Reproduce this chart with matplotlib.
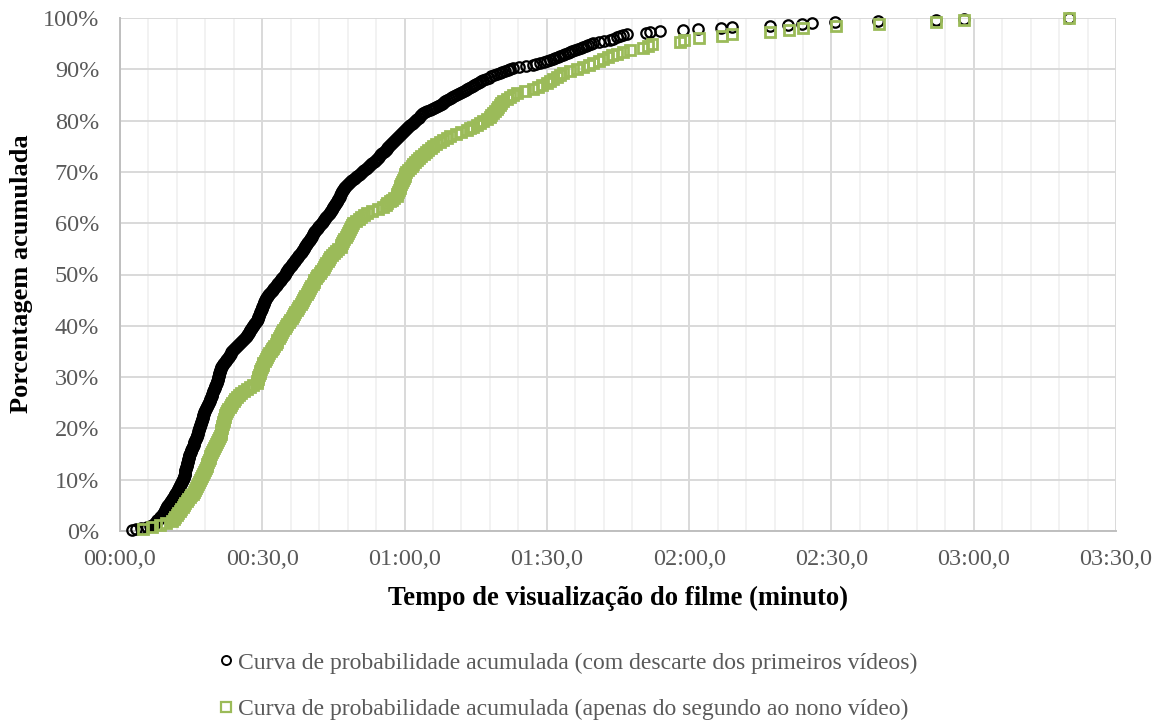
import numpy as np
import matplotlib
matplotlib.use("Agg")
import matplotlib.pyplot as plt
from matplotlib.ticker import FixedLocator, FuncFormatter
from matplotlib.lines import Line2D

# Sorted viewing times (seconds) for each group; each point is one viewer
tempos_descarte = [
    2.6, 3.3,
    4.5, 5.6, 6.4, 7.0,
    7.1, 7.3, 7.6, 7.8, 7.9, 8.2, 8.4, 8.5, 8.8,
    8.9, 9.0, 9.2, 9.3, 9.5, 9.6, 9.8, 9.9, 10.0, 10.2, 10.4, 10.5,
    10.6, 10.8, 10.9, 11.0, 11.2, 11.3, 11.4, 11.6, 11.7, 11.8, 12.0, 12.1, 12.2,
    12.3, 12.4, 12.5, 12.6, 12.7, 12.8, 12.9, 13.0, 13.1, 13.2, 13.3, 13.4, 13.5, 13.5, 13.6, 13.7,
    13.7, 13.8, 13.8, 13.9, 14.0, 14.0, 14.1, 14.1, 14.2, 14.2, 14.3, 14.3, 14.4, 14.4, 14.5, 14.5,
    14.6, 14.6, 14.7, 14.8,
    14.9, 15.0, 15.0, 15.1, 15.2, 15.3, 15.4, 15.5, 15.5, 15.6, 15.7, 15.8, 15.9, 16.0, 16.1, 16.2,
    16.3, 16.3, 16.4, 16.5, 16.5, 16.6, 16.7, 16.7, 16.8, 16.9, 16.9, 17.0, 17.1, 17.1, 17.2,
    17.3, 17.3, 17.4, 17.5, 17.5, 17.6, 17.7, 17.8, 17.8, 17.9, 18.0, 18.1, 18.2, 18.3,
    18.4, 18.5, 18.6, 18.7, 18.8, 18.9, 19.0, 19.0, 19.1, 19.2, 19.3, 19.4, 19.5, 19.6, 19.7,
    19.8, 19.9, 20.0, 20.0, 20.1, 20.2, 20.3, 20.4,
    20.5, 20.5, 20.6, 20.6, 20.7, 20.7, 20.8, 20.8, 20.9, 20.9, 21.0, 21.1, 21.1, 21.2, 21.3, 21.4,
    21.5, 21.7, 21.8, 22.0, 22.1, 22.3, 22.4, 22.6, 22.7, 22.9, 23.0, 23.2, 23.4, 23.5, 23.7, 23.9,
    24.1, 24.3, 24.5, 24.7, 24.9, 25.1, 25.3, 25.5, 25.7, 25.9, 26.1, 26.3, 26.5, 26.7,
    26.8, 27.0, 27.1, 27.3, 27.4, 27.5, 27.7, 27.8, 27.9, 28.0, 28.2, 28.3, 28.5, 28.6, 28.8,
    28.9, 29.0, 29.1, 29.2, 29.3, 29.4, 29.5, 29.6, 29.7, 29.8, 29.9, 30.0, 30.0, 30.1, 30.2,
    30.3, 30.4, 30.4, 30.5, 30.6, 30.7, 30.8, 30.9,
    31.1, 31.3, 31.4, 31.6, 31.8, 32.0, 32.2, 32.3, 32.5, 32.7, 32.9, 33.0, 33.2, 33.4, 33.5,
    33.7, 33.9, 34.0, 34.2, 34.4,
    34.6, 34.7, 34.9, 35.0, 35.2, 35.4, 35.5, 35.7, 35.9, 36.0, 36.2, 36.3, 36.5, 36.7, 36.8,
    37.0, 37.2, 37.3, 37.5, 37.6, 37.8, 38.0,
    38.1, 38.3, 38.4, 38.6, 38.7, 38.8, 39.0, 39.1, 39.3, 39.4, 39.5, 39.7, 39.8, 40.0, 40.1,
    40.2, 40.4, 40.5, 40.7, 40.8,
    41.0, 41.2, 41.3, 41.5, 41.7, 41.8, 42.0, 42.2, 42.3, 42.5, 42.7, 42.8, 43.0, 43.2, 43.3,
    43.5, 43.7, 43.8, 44.0, 44.2, 44.3, 44.5, 44.6, 44.7, 44.9, 45.0,
    45.1, 45.3, 45.4, 45.5, 45.7, 45.8, 45.9, 46.0, 46.2, 46.3, 46.4, 46.6, 46.7, 46.8, 46.9,
    47.1, 47.2, 47.3, 47.5, 47.6, 47.8,
    48.0, 48.3, 48.5, 48.8, 49.0, 49.3, 49.5, 49.8, 50.0, 50.3, 50.5, 50.8, 51.0, 51.3, 51.5,
    51.8, 52.0, 52.3, 52.5, 52.8, 53.0,
    53.2, 53.5, 53.7, 54.0, 54.2, 54.4, 54.7, 54.9, 55.1, 55.3, 55.6, 55.8,
    56.0, 56.2, 56.4, 56.6, 56.8, 57.0, 57.2, 57.4, 57.6, 57.8, 58.0, 58.2, 58.4, 58.6, 58.8,
    59.0, 59.2, 59.4, 59.6, 59.8, 60.0,
    60.2, 60.5, 60.7, 61.0, 61.2, 61.5, 61.7, 62.0, 62.2, 62.5, 62.7, 63.0, 63.2, 63.4, 63.6, 63.8,
    64.3, 64.8, 65.3, 65.8, 66.3, 66.7, 67.1, 67.5,
    67.8, 68.1, 68.3, 68.6, 68.9,
    69.3, 69.7, 70.1, 70.5, 70.9, 71.3, 71.7,
    72.1, 72.5, 72.9, 73.2, 73.6, 74.0, 74.4, 74.7, 75.1, 75.5, 75.8, 76.2, 76.6,
    77.2, 77.8, 78.3, 78.9, 79.5, 80.1, 80.6, 81.2, 81.8, 82.3, 82.9,
    84.2, 85.6, 87.1,
    87.8, 88.5, 89.3, 90.0, 90.7,
    91.2, 91.8, 92.3, 92.8, 93.4, 93.9, 94.4, 94.9,
    95.4, 96.0, 96.5, 97.1, 97.6, 98.2, 98.7, 99.3, 99.8,
    101.0, 102.1, 103.3,
    104.0, 104.7, 105.4, 106.1, 106.8,
    111.0, 111.7, 113.9, 118.7, 121.9, 126.8, 129.0, 137.0, 140.9, 143.8, 145.8, 150.8,
    159.8, 172.0, 178.0, 200.0,
]

tempos_segundo_nono = [
    4.9, 6.8, 8.4, 9.8, 10.9,
    11.3, 11.7, 12.0, 12.3, 12.6,
    12.9, 13.2, 13.5, 13.8, 14.1, 14.4,
    14.7, 15.0, 15.3, 15.5, 15.8,
    16.0, 16.2, 16.4, 16.7, 16.9,
    17.1, 17.3, 17.5, 17.7, 17.9, 18.1, 18.3,
    18.4, 18.6, 18.7, 18.9, 19.0,
    19.2, 19.4, 19.6, 19.8, 20.0, 20.2, 20.4,
    20.6, 20.9, 21.1,
    21.2, 21.3, 21.4, 21.5, 21.6, 21.7, 21.8, 21.9, 22.0, 22.1, 22.2, 22.4, 22.5,
    22.8, 23.1, 23.4, 23.7, 24.0, 24.3, 24.6,
    25.1, 25.6, 26.2, 26.7,
    27.4, 28.1, 28.8,
    28.9, 29.0, 29.2, 29.3, 29.5, 29.6, 29.8, 29.9, 30.1, 30.2,
    30.5, 30.7, 31.0, 31.2, 31.5, 31.8, 32.0, 32.3,
    32.5, 32.8, 33.0, 33.2, 33.5, 33.7, 33.9, 34.2, 34.4,
    34.7, 35.0, 35.3, 35.6, 35.9, 36.2, 36.4, 36.7, 37.0, 37.3,
    37.6, 37.8, 38.1, 38.4, 38.6, 38.9, 39.1, 39.4,
    39.6, 39.9, 40.1, 40.3, 40.6, 40.8, 41.0, 41.3, 41.5,
    41.8, 42.1, 42.4, 42.7, 43.0, 43.2, 43.5, 43.8, 44.0, 44.3,
    44.7, 45.2, 45.6, 46.0, 46.5,
    46.7, 46.9, 47.1, 47.3, 47.6, 47.8, 48.0, 48.2, 48.5, 48.7, 48.9, 49.2,
    49.7, 50.3, 50.8, 51.4, 52.0,
    53.2, 54.3, 55.5,
    56.0, 56.4, 56.9, 57.4, 57.8, 58.3,
    58.5, 58.7, 58.8, 59.0, 59.1, 59.3,
    59.5, 59.6, 59.8, 60.0, 60.1, 60.3,
    60.7, 61.1, 61.5, 61.8, 62.2, 62.6,
    63.1, 63.5, 64.0, 64.5, 65.0, 65.5, 66.0,
    66.7, 67.4, 68.2, 68.9, 69.6,
    70.8, 71.9, 73.1,
    73.8, 74.5, 75.2, 75.9, 76.6, 77.3, 78.0,
    78.3, 78.7, 79.0, 79.4, 79.7, 80.1, 80.4, 80.8,
    81.5, 82.2, 82.9, 83.6,
    85.3, 87.1,
    88.1, 89.0, 90.0,
    90.7, 91.4, 92.1, 92.8, 93.5,
    94.9, 96.3, 97.7,
    98.8, 99.8, 100.9, 101.9,
    102.8, 103.8, 104.7,
    106.1, 107.5,
    110.3, 111.3, 112.1,
    118.0,
    119.0, 122.0, 127.0, 129.0, 137.0, 141.0, 144.0, 151.0, 160.0, 172.0, 178.0, 200.0,
]

rotulo_descarte = "Curva de probabilidade acumulada (com descarte dos primeiros vídeos)"
rotulo_segundo_nono = "Curva de probabilidade acumulada (apenas do segundo ao nono vídeo)"
titulo_x = "Tempo de visualização do filme (minuto)"
titulo_y = "Porcentagem acumulada"

COR_PRETO = "#000000"
COR_VERDE = "#9BBB59"
COR_TEXTO = "#595959"

plt.rcParams["font.family"] = ["Liberation Serif", "DejaVu Serif"]


def acumulada(tempos):
    t = np.sort(np.asarray(tempos, dtype=float))
    return t, np.arange(1, len(t) + 1) / len(t)


fig = plt.figure(figsize=(11.57, 7.20), dpi=100)
ax = fig.add_axes([120 / 1157, 1 - 531 / 720, (1116 - 120) / 1157, (531 - 18) / 720])

x1, y1 = acumulada(tempos_descarte)
x2, y2 = acumulada(tempos_segundo_nono)

ax.plot(x1, y1, linestyle="none", marker="o", markersize=7.5,
        markerfacecolor="none", markeredgecolor=COR_PRETO, markeredgewidth=1.6,
        clip_on=False, zorder=3)
ax.plot(x2, y2, linestyle="none", marker="s", markersize=7.8,
        markerfacecolor="none", markeredgecolor=COR_VERDE, markeredgewidth=2.0,
        clip_on=False, zorder=4)

ax.set_xlim(0, 210)
ax.set_ylim(0, 1)

ax.xaxis.set_major_locator(FixedLocator(np.arange(0, 211, 30)))
ax.xaxis.set_minor_locator(FixedLocator(np.arange(0, 211, 6)))
ax.yaxis.set_major_locator(FixedLocator(np.arange(0, 1.01, 0.1)))


def fmt_tempo(v, pos):
    m = int(v // 60)
    s = v - 60 * m
    return f"{m:02d}:{int(round(s)):02d},0"


ax.xaxis.set_major_formatter(FuncFormatter(fmt_tempo))
ax.yaxis.set_major_formatter(FuncFormatter(lambda v, p: f"{int(round(v * 100))}%"))

ax.grid(True, which="minor", axis="x", color="#F2F2F2", linewidth=1.4, zorder=0)
ax.grid(True, which="major", axis="x", color="#D9D9D9", linewidth=1.4, zorder=1)
ax.grid(True, which="major", axis="y", color="#D9D9D9", linewidth=1.4, zorder=1)
ax.set_axisbelow(True)

for lado in ("top", "right"):
    ax.spines[lado].set_visible(False)
for lado in ("left", "bottom"):
    ax.spines[lado].set_color("#BFBFBF")
    ax.spines[lado].set_linewidth(1.4)

ax.tick_params(axis="both", which="both", length=0, labelsize=17.5, labelcolor=COR_TEXTO)
ax.tick_params(axis="y", pad=15)
ax.tick_params(axis="x", pad=13)

fig.text(618 / 1157, 1 - 598 / 720, titulo_x, ha="center", va="center",
         fontsize=19.2, fontweight="bold", color="black")
fig.text(22 / 1157, 1 - 274 / 720, titulo_y, ha="center", va="center", rotation=90,
         fontsize=19, fontweight="bold", color="black")

alcas = [
    Line2D([], [], linestyle="none", marker="o", markersize=6.5,
           markerfacecolor="none", markeredgecolor=COR_PRETO, markeredgewidth=1.4),
    Line2D([], [], linestyle="none", marker="s", markersize=6.8,
           markerfacecolor="none", markeredgecolor=COR_VERDE, markeredgewidth=1.6),
]
leg = fig.legend(alcas, [rotulo_descarte, rotulo_segundo_nono],
                 loc="center left", bbox_to_anchor=(218 / 1157, 1 - 686 / 720),
                 frameon=False, fontsize=17, handlelength=0.7, handletextpad=0.15,
                 labelspacing=1.05, borderaxespad=0, borderpad=0)
for t in leg.get_texts():
    t.set_color(COR_TEXTO)

fig.savefig("out.png", dpi=100)
